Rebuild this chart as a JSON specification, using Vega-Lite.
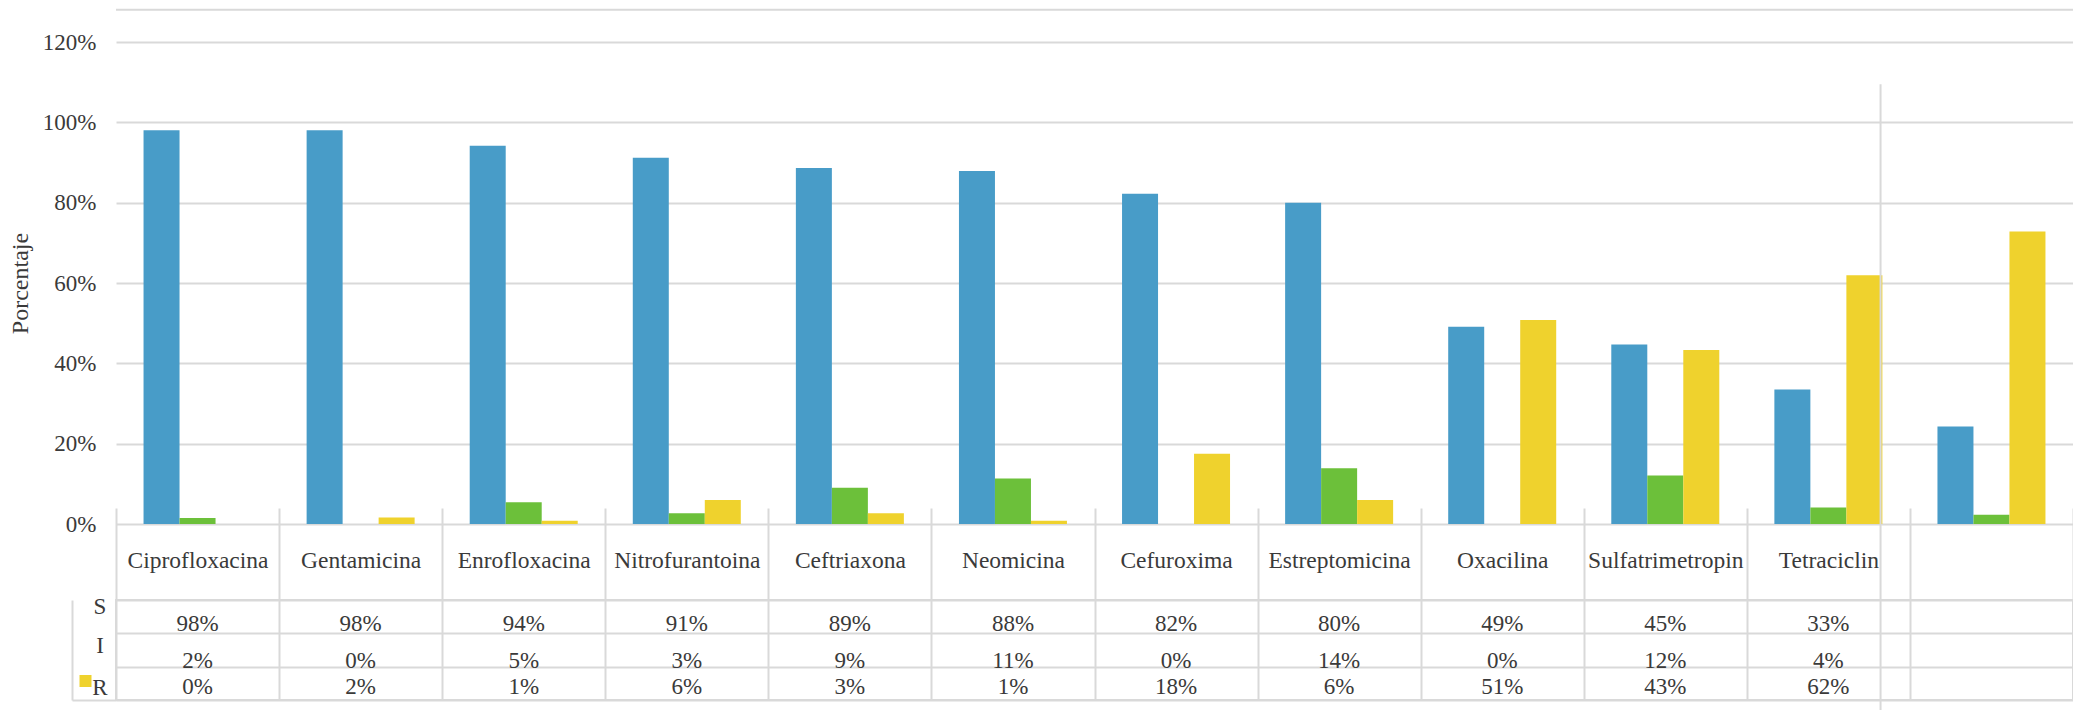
{
  "$schema": "https://vega.github.io/schema/vega-lite/v6.json",
  "background": "white",
  "padding": {"left": 8, "top": 8, "right": 0, "bottom": 0},
  "autosize": {"type": "pad"},
  "config": {
    "font": "Liberation Serif",
    "view": {"stroke": "#d9d9d9", "strokeWidth": 2},
    "axis": {"labelFont": "Liberation Serif", "titleFont": "Liberation Serif", "labelColor": "#3a3a3a", "titleColor": "#3a3a3a"},
    "text": {"font": "Liberation Serif"}
  },
  "datasets": {
    "d": [
      {"antibiotico": "Ciprofloxacina", "tipo": "S", "valor": 0.98, "etiqueta": "98%"},
      {"antibiotico": "Ciprofloxacina", "tipo": "I", "valor": 0.015, "etiqueta": "2%"},
      {"antibiotico": "Ciprofloxacina", "tipo": "R", "valor": 0.0, "etiqueta": "0%"},
      {"antibiotico": "Gentamicina", "tipo": "S", "valor": 0.98, "etiqueta": "98%"},
      {"antibiotico": "Gentamicina", "tipo": "I", "valor": 0.0, "etiqueta": "0%"},
      {"antibiotico": "Gentamicina", "tipo": "R", "valor": 0.016, "etiqueta": "2%"},
      {"antibiotico": "Enrofloxacina", "tipo": "S", "valor": 0.942, "etiqueta": "94%"},
      {"antibiotico": "Enrofloxacina", "tipo": "I", "valor": 0.054, "etiqueta": "5%"},
      {"antibiotico": "Enrofloxacina", "tipo": "R", "valor": 0.008, "etiqueta": "1%"},
      {"antibiotico": "Nitrofurantoina", "tipo": "S", "valor": 0.912, "etiqueta": "91%"},
      {"antibiotico": "Nitrofurantoina", "tipo": "I", "valor": 0.027, "etiqueta": "3%"},
      {"antibiotico": "Nitrofurantoina", "tipo": "R", "valor": 0.06, "etiqueta": "6%"},
      {"antibiotico": "Ceftriaxona", "tipo": "S", "valor": 0.886, "etiqueta": "89%"},
      {"antibiotico": "Ceftriaxona", "tipo": "I", "valor": 0.09, "etiqueta": "9%"},
      {"antibiotico": "Ceftriaxona", "tipo": "R", "valor": 0.027, "etiqueta": "3%"},
      {"antibiotico": "Neomicina", "tipo": "S", "valor": 0.879, "etiqueta": "88%"},
      {"antibiotico": "Neomicina", "tipo": "I", "valor": 0.113, "etiqueta": "11%"},
      {"antibiotico": "Neomicina", "tipo": "R", "valor": 0.008, "etiqueta": "1%"},
      {"antibiotico": "Cefuroxima", "tipo": "S", "valor": 0.822, "etiqueta": "82%"},
      {"antibiotico": "Cefuroxima", "tipo": "I", "valor": 0.0, "etiqueta": "0%"},
      {"antibiotico": "Cefuroxima", "tipo": "R", "valor": 0.175, "etiqueta": "18%"},
      {"antibiotico": "Estreptomicina", "tipo": "S", "valor": 0.8, "etiqueta": "80%"},
      {"antibiotico": "Estreptomicina", "tipo": "I", "valor": 0.139, "etiqueta": "14%"},
      {"antibiotico": "Estreptomicina", "tipo": "R", "valor": 0.06, "etiqueta": "6%"},
      {"antibiotico": "Oxacilina", "tipo": "S", "valor": 0.491, "etiqueta": "49%"},
      {"antibiotico": "Oxacilina", "tipo": "I", "valor": 0.0, "etiqueta": "0%"},
      {"antibiotico": "Oxacilina", "tipo": "R", "valor": 0.508, "etiqueta": "51%"},
      {"antibiotico": "Sulfatrimetropin", "tipo": "S", "valor": 0.447, "etiqueta": "45%"},
      {"antibiotico": "Sulfatrimetropin", "tipo": "I", "valor": 0.121, "etiqueta": "12%"},
      {"antibiotico": "Sulfatrimetropin", "tipo": "R", "valor": 0.433, "etiqueta": "43%"},
      {"antibiotico": "Tetraciclin", "tipo": "S", "valor": 0.335, "etiqueta": "33%"},
      {"antibiotico": "Tetraciclin", "tipo": "I", "valor": 0.041, "etiqueta": "4%"},
      {"antibiotico": "Tetraciclin", "tipo": "R", "valor": 0.619, "etiqueta": "62%"},
      {"antibiotico": " ", "tipo": "S", "valor": 0.243, "etiqueta": null},
      {"antibiotico": " ", "tipo": "I", "valor": 0.023, "etiqueta": null},
      {"antibiotico": " ", "tipo": "R", "valor": 0.728, "etiqueta": null}
    ]
  },
  "bounds": "flush",
  "spacing": 76,
  "vconcat": [
    {
      "width": 1957,
      "height": 482,
      "view": {"stroke": null},
      "layer": [
        {
          "data": {"name": "d"},
          "mark": {"type": "bar"},
          "encoding": {
            "x": {
              "field": "antibiotico", "type": "nominal",
              "scale": {"domain": ["Ciprofloxacina", "Gentamicina", "Enrofloxacina", "Nitrofurantoina", "Ceftriaxona", "Neomicina", "Cefuroxima", "Estreptomicina", "Oxacilina", "Sulfatrimetropin", "Tetraciclin", " "], "paddingInner": 0, "paddingOuter": 0},
              "axis": null
            },
            "xOffset": {"field": "tipo", "type": "nominal", "scale": {"domain": ["S", "I", "R"], "paddingInner": 0, "paddingOuter": 0.765}},
            "y": {
              "field": "valor", "type": "quantitative",
              "scale": {"domain": [0, 1.2], "nice": false, "zero": true},
              "axis": {
                "values": [0, 0.2, 0.4, 0.6, 0.8, 1, 1.2], "format": ".0%",
                "labelFontSize": 23, "labelPadding": 20, "ticks": false, "domain": false,
                "gridColor": "#d9d9d9", "gridWidth": 2,
                "title": "Porcentaje", "titleFontSize": 24, "titleFontWeight": "normal", "titlePadding": 10
              }
            },
            "color": {
              "field": "tipo", "type": "nominal",
              "scale": {"domain": ["S", "I", "R"], "range": ["#489cc8", "#6cc03a", "#efd22d"]},
              "legend": {
                "values": ["R"], "orient": "none", "legendX": -36.5, "legendY": 633,
                "title": null, "symbolType": "square", "symbolSize": 144, "symbolStrokeWidth": 0,
                "symbolOpacity": 1, "labelExpr": "''", "padding": 0
              }
            }
          }
        },
        {
          "data": {"values": [{}]},
          "mark": {"type": "rule", "color": "#d9d9d9", "strokeWidth": 2},
          "encoding": {"y": {"datum": 1.28, "type": "quantitative"}}
        },
        {
          "data": {"values": [{}]},
          "mark": {"type": "rule", "color": "#d9d9d9", "strokeWidth": 2},
          "encoding": {
            "x": {"datum": "Tetraciclin", "type": "nominal", "bandPosition": 0.82},
            "y": {"datum": 1.095, "type": "quantitative"},
            "y2": {"datum": -0.466}
          }
        }
      ]
    },
    {
      "width": 1957,
      "height": 100,
      "data": {"name": "d"},
      "transform": [{"filter": "datum.etiqueta != null"}],
      "encoding": {
        "x": {
          "field": "antibiotico", "type": "nominal",
          "scale": {"domain": ["Ciprofloxacina", "Gentamicina", "Enrofloxacina", "Nitrofurantoina", "Ceftriaxona", "Neomicina", "Cefuroxima", "Estreptomicina", "Oxacilina", "Sulfatrimetropin", "Tetraciclin", " "], "paddingInner": 0, "paddingOuter": 0},
          "axis": {
            "orient": "top", "title": null, "tickBand": "extent",
            "ticks": true, "tickSize": 92, "tickColor": "#d9d9d9", "tickWidth": 2,
            "domain": false, "grid": true, "gridColor": "#d9d9d9", "gridWidth": 2,
            "labelPadding": -52, "labelBaseline": "middle", "labelAngle": 0,
            "labelFontSize": 23.5, "labelOverlap": false, "labelBound": false, "labelLimit": 0
          }
        },
        "y": {
          "field": "tipo", "type": "nominal",
          "scale": {"domain": ["S", "I", "R"], "paddingInner": 0, "paddingOuter": 0},
          "axis": {
            "title": null, "offset": 44,
            "ticks": true, "tickSize": -44, "tickColor": "#d9d9d9", "tickWidth": 2,
            "tickOpacity": {"condition": {"test": "datum.value === 'R'", "value": 1}, "value": 0},
            "domain": true, "domainColor": "#d9d9d9", "domainWidth": 2,
            "grid": true, "gridColor": "#d9d9d9", "gridWidth": 2, "tickBand": "extent",
            "labelAlign": "center", "labelPadding": 16.5, "labelFontSize": 23,
            "labelOffset": {"condition": [{"test": "datum.value === 'S'", "value": -10}, {"test": "datum.value === 'I'", "value": -5}], "value": 4}
          }
        }
      },
      "layer": [
        {
          "transform": [{"filter": "datum.tipo === 'S'"}],
          "mark": {"type": "text", "fontSize": 23, "color": "#3a3a3a", "baseline": "middle", "dy": 7},
          "encoding": {"text": {"field": "etiqueta", "type": "nominal"}}
        },
        {
          "transform": [{"filter": "datum.tipo === 'I'"}],
          "mark": {"type": "text", "fontSize": 23, "color": "#3a3a3a", "baseline": "middle", "dy": 11},
          "encoding": {"text": {"field": "etiqueta", "type": "nominal"}}
        },
        {
          "transform": [{"filter": "datum.tipo === 'R'"}],
          "mark": {"type": "text", "fontSize": 23, "color": "#3a3a3a", "baseline": "middle", "dy": 4},
          "encoding": {"text": {"field": "etiqueta", "type": "nominal"}}
        }
      ]
    }
  ]
}
